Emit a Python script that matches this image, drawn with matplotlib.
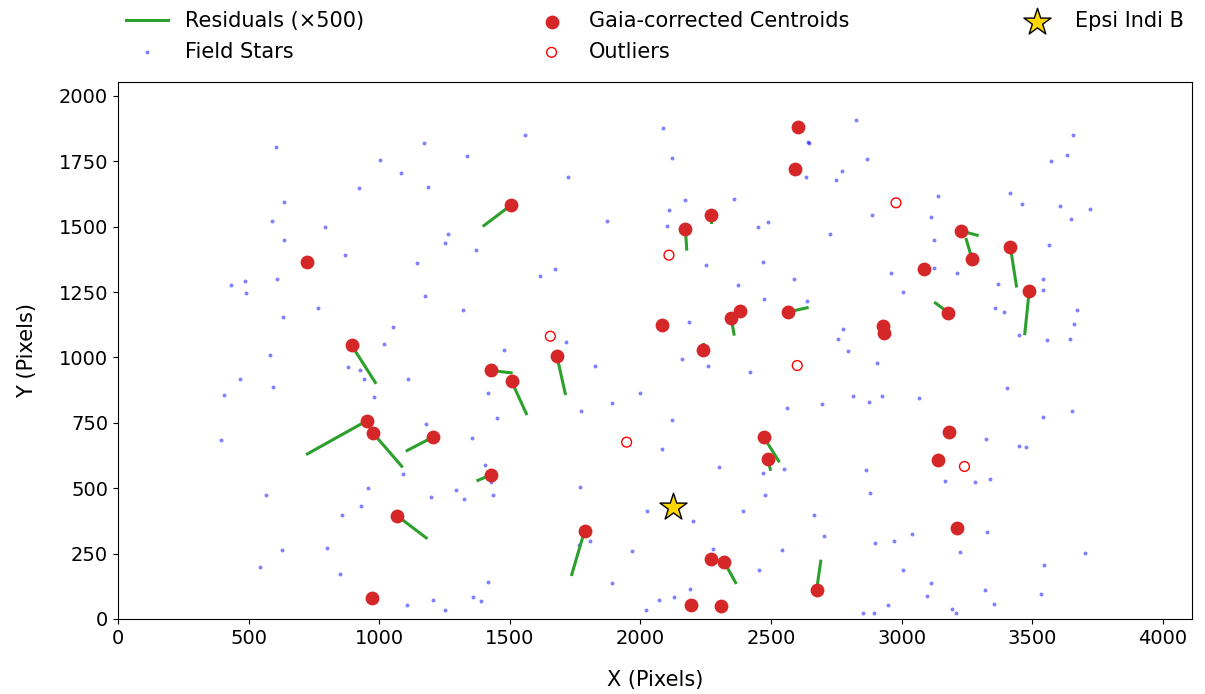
import numpy as np
import matplotlib
matplotlib.use("Agg")
import matplotlib.pyplot as plt

# field stars (pixels)
field_x = [604, 1171, 1004, 1336, 1082, 924, 1187, 634, 591, 794, 634, 1262, 1253, 1372, 870, 1145,
           433, 485, 491, 609, 1176, 1321, 767, 632, 1053, 1017,
           1559, 2086, 2121, 2640, 2646, 1724, 2634, 2750, 2172, 2358, 2110, 2103, 1872, 2451, 2487, 2724,
           1672, 1615, 2251, 2469, 2374, 2586, 2474, 2638, 2185, 1715, 1479, 2756,
           2825, 3655, 3631, 3573, 2866, 2771, 3139, 3413, 3459, 3605, 3722, 3647, 2885, 3112, 3123, 3564,
           2959, 3122, 3211, 3006, 3370, 3541, 3539, 3357, 3390, 3670, 3659, 3448, 3557, 3644, 2774, 2796,
           583, 882, 927, 942, 467, 592, 407, 979, 1111, 394, 1179, 1355, 1090, 567, 956, 1197, 1293, 1324,
           931, 856, 627, 799, 544, 850, 1105, 1206, 1252, 1359,
           2160, 2257, 2418, 1825, 1418, 1998, 1892, 1774, 1452, 2121, 2561, 2694, 2081, 2302, 2470, 2549,
           1406, 1429, 1435, 1768, 2478, 2026, 2201, 2392, 2663, 2701, 1763, 1805, 1969, 2276, 2540, 2452,
           1415, 1890, 1391, 2188, 2071, 2128, 2021,
           2906, 2813, 2875, 2924, 3065, 3402, 3541, 3652, 3322, 3449, 3474, 2864, 2877, 3167, 3279, 3338,
           3327, 3038, 2969, 2896, 3223, 3700, 3544, 3006, 3112, 3097, 3319, 3534, 2946, 2850, 2894, 3194,
           3209, 3352]
field_y = [1806, 1818, 1754, 1769, 1704, 1648, 1652, 1593, 1522, 1498, 1447, 1471, 1438, 1410, 1391, 1360,
           1277, 1291, 1245, 1299, 1236, 1180, 1190, 1155, 1115, 1050,
           1851, 1878, 1764, 1824, 1821, 1689, 1688, 1679, 1600, 1607, 1563, 1504, 1523, 1500, 1518, 1470,
           1338, 1313, 1355, 1366, 1277, 1298, 1225, 1216, 1137, 1060, 1027, 1072,
           1908, 1850, 1772, 1751, 1759, 1714, 1618, 1628, 1587, 1579, 1569, 1531, 1545, 1536, 1447, 1428,
           1323, 1340, 1321, 1250, 1282, 1299, 1257, 1190, 1175, 1180, 1129, 1086, 1066, 1071, 1110, 1026,
           1011, 965, 953, 917, 919, 888, 857, 850, 919, 685, 746, 693, 556, 473, 501, 465, 492, 460,
           432, 399, 263, 273, 198, 171, 55, 71, 36, 84,
           993, 969, 945, 969, 862, 864, 826, 795, 770, 762, 807, 823, 651, 580, 557, 572,
           589, 524, 473, 506, 473, 412, 375, 413, 399, 319, 284, 299, 259, 269, 265, 187,
           141, 139, 68, 114, 71, 84, 34,
           980, 852, 829, 854, 846, 882, 772, 797, 688, 662, 657, 570, 483, 528, 525, 535,
           333, 324, 298, 292, 257, 252, 208, 189, 139, 89, 112, 96, 52, 24, 24, 38,
           24, 56]

# Gaia-corrected centroids and residuals (pixels, unscaled)
cent_x = [722, 894, 953, 976, 1068, 972, 1207, 1429, 1507, 1427, 1503, 1680, 1786, 2081, 2172, 2269,
          2240, 2347, 2382, 2563, 2593, 2603, 2472, 2487, 2271, 2320, 2194, 2308, 2674, 2930, 2934,
          3086, 3225, 3269, 3179, 3416, 3488, 3181, 3139, 3210]
cent_y = [1364, 1047, 758, 711, 395, 79, 696, 950, 908, 551, 1581, 1005, 337, 1124, 1490, 1546,
          1030, 1152, 1178, 1173, 1721, 1881, 695, 613, 228, 219, 52, 50, 110, 1119, 1093,
          1338, 1484, 1377, 1171, 1421, 1254, 715, 609, 349]
res_dx = [0.0, 0.182, -0.456, 0.220, 0.224, 0.0, -0.200, 0.152, 0.112, -0.098, -0.204, 0.064, -0.098,
          0.0, 0.010, 0.0, 0.0, 0.022, 0.0, 0.150, 0.0, 0.0, 0.114, 0.020, 0.0, 0.088, 0.0, 0.0, 0.032,
          0.0, 0.0, 0.0, 0.128, -0.044, -0.100, 0.046, -0.034, 0.0, 0.0, 0.0]
res_dy = [0.0, -0.286, -0.254, -0.254, -0.170, 0.0, -0.104, -0.018, -0.246, -0.042, -0.154, -0.286,
          -0.334, 0.0, -0.152, -0.056, 0.046, -0.126, 0.0, 0.034, 0.0, 0.0, -0.182, -0.082, 0.0, -0.160,
          0.0, 0.0, 0.222, 0.0, 0.0, -0.020, -0.034, 0.148, 0.074, -0.296, -0.326, 0.0, 0.030, 0.0]

out_x = [2109, 1655, 2978, 2600, 1947, 3240]
out_y = [1391, 1081, 1591, 969, 676, 583]

target_x = [2126]
target_y = [428]
scale = 500

fig = plt.figure(figsize=(12.05, 6.94), dpi=100)
ax = fig.add_axes([0.0979, 0.1081, 0.8913, 0.7738])

ax.scatter(field_x, field_y, s=8, color='blue', alpha=0.5, linewidths=0,
           label='Field Stars', zorder=1)
for i in range(len(cent_x)):
    x0, y0 = cent_x[i], cent_y[i]
    x1 = x0 + scale * res_dx[i]
    y1 = y0 + scale * res_dy[i]
    ax.plot([x0, x1], [y0, y1], color='tab:green', lw=2.2, zorder=2,
            label='Residuals (×500)' if i == 0 else None)
ax.scatter(cent_x, cent_y, s=80, color='tab:red', zorder=3, label='Gaia-corrected Centroids')
ax.scatter(out_x, out_y, s=50, facecolors='none', edgecolors='red', linewidths=1.0,
           zorder=3, label='Outliers')
ax.scatter(target_x, target_y, marker='*', s=420, color='gold', edgecolors='black',
           linewidths=1.0, zorder=4, label='Epsi Indi B')

ax.set_xlim(0, 4111)
ax.set_ylim(0, 2053)
ax.set_xlabel('X (Pixels)', fontsize=15, labelpad=16)
ax.set_ylabel('Y (Pixels)', fontsize=15, labelpad=16)
ax.tick_params(labelsize=14)

h, l = ax.get_legend_handles_labels()
order = ['Residuals (×500)', 'Field Stars', 'Gaia-corrected Centroids', 'Outliers', 'Epsi Indi B']
hh = [h[l.index(o)] for o in order]
ax.legend(hh, order, loc='lower left', bbox_to_anchor=(0, 1.022, 1, 0.2), mode='expand',
          ncol=3, frameon=False, fontsize=15, borderaxespad=0)

fig.savefig('out.png', dpi=100)
